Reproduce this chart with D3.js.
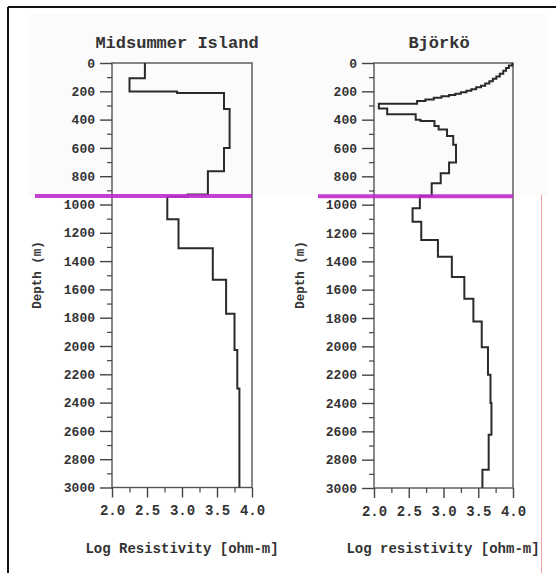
<!DOCTYPE html>
<html>
<head>
<meta charset="utf-8">
<script src="https://cdn.jsdelivr.net/npm/d3@7/dist/d3.min.js"></script>
<style>
html,body{margin:0;padding:0;background:#fff;}
svg{display:block;}
text{font-family:"Liberation Mono","DejaVu Sans Mono",monospace;font-weight:bold;fill:#333;}
</style>
</head>
<body>
<svg id="chart" width="556" height="573"></svg>
<script>
// ---- data ----
const panelTitles = ["Midsummer Island", "Björkö"];
const xTitles = ["Log Resistivity [ohm-m]", "Log resistivity [ohm-m]"];
const yTitle = "Depth (m)";
const xTickValues = [2.0, 2.5, 3.0, 3.5, 4.0];
const yTickValues = [0,200,400,600,800,1000,1200,1400,1600,1800,2000,2200,2400,2600,2800,3000];
const maxDepth = 3000;
const markerDepth = 940;

// Midsummer Island: layer top depths (m) and log resistivity
const midTops = [0,107,202,212,325,600,765,930,945,1105,1309,1531,1772,2028,2300];
const midRes  = [2.47,2.25,2.93,3.60,3.68,3.60,3.37,3.08,2.79,2.95,3.44,3.63,3.75,3.79,3.82];

// Björkö
const bjoTops = [0,18,36,55,75,95,112,128,145,160,172,185,196,207,217,226,235,246,257,268,287,322,362,400,410,445,470,515,577,702,778,849,938,1025,1120,1250,1367,1511,1664,1824,2007,2200,2400,2624,2871];
const bjoRes  = [3.99,3.94,3.90,3.86,3.81,3.76,3.71,3.66,3.60,3.54,3.47,3.40,3.33,3.25,3.17,3.08,2.97,2.86,2.74,2.62,2.07,2.19,2.60,2.67,2.87,2.93,3.05,3.14,3.18,3.08,2.96,2.83,2.66,2.555,2.68,2.92,3.12,3.30,3.43,3.55,3.64,3.676,3.69,3.65,3.56];

// ---- drawing ----
const svg = d3.select("#chart");

// scan background tint & border
svg.append("rect").attr("x",0).attr("y",0).attr("width",556).attr("height",573).attr("fill","#fff");
svg.append("rect").attr("x",28).attr("y",14).attr("width",520).attr("height",182).attr("fill","#fbfbfb");
svg.append("line").attr("x1",8).attr("x2",556).attr("y1",7).attr("y2",7).attr("stroke","#111").attr("stroke-width",2);
svg.append("line").attr("x1",8).attr("x2",8).attr("y1",7).attr("y2",573).attr("stroke","#111").attr("stroke-width",2);
svg.append("line").attr("x1",541.5).attr("x2",541.5).attr("y1",195).attr("y2",573).attr("stroke","#f3a0a0").attr("stroke-width",1);

const panels = [
  {tops: midTops, res: midRes, x0:112, x1:252, y0:63, y1:487.5, title:panelTitles[0], xTitle:xTitles[0], titleX:177, xTitleX:182, depthX:41, markerFrom:35},
  {tops: bjoTops, res: bjoRes, x0:374, x1:513, y0:63, y1:488, title:panelTitles[1], xTitle:xTitles[1], titleX:439, xTitleX:443, depthX:304, markerFrom:318}
];

panels.forEach(p => {
  const x = d3.scaleLinear().domain([2,4]).range([p.x0, p.x1]);
  const y = d3.scaleLinear().domain([0,maxDepth]).range([p.y0, p.y1]);
  const g = svg.append("g");

  // frame
  g.append("rect").attr("x",p.x0).attr("y",p.y0).attr("width",p.x1-p.x0).attr("height",p.y1-p.y0)
    .attr("fill","none").attr("stroke","#555").attr("stroke-width",1.4);

  // y axis: major ticks with labels, minor ticks
  const yMinor = d3.range(100, maxDepth, 200);
  const yAxis = d3.axisLeft(y).tickValues(yTickValues).tickSize(12).tickPadding(5).tickFormat(d3.format("d"));
  const ya = g.append("g").attr("transform",`translate(${p.x0},0)`).call(yAxis);
  ya.select(".domain").remove();
  ya.selectAll(".tick line").attr("stroke","#444").attr("stroke-width",1.4);
  ya.selectAll(".tick text").attr("font-size",13).attr("fill","#333")
    .style("font-family",'"Liberation Mono",monospace').style("font-weight","bold");
  const yb = g.append("g").attr("transform",`translate(${p.x0},0)`)
    .call(d3.axisLeft(y).tickValues(yMinor).tickSize(5).tickFormat(""));
  yb.select(".domain").remove();
  yb.selectAll(".tick line").attr("stroke","#444").attr("stroke-width",1.2);

  // x axis
  const xMinor = [2.25,2.75,3.25,3.75];
  const xa = g.append("g").attr("transform",`translate(0,${p.y1})`)
    .call(d3.axisBottom(x).tickValues(xTickValues).tickSize(10).tickPadding(8).tickFormat(d3.format(".1f")));
  xa.select(".domain").remove();
  xa.selectAll(".tick line").attr("stroke","#444").attr("stroke-width",1.4);
  xa.selectAll(".tick text").attr("font-size",14).attr("fill","#333")
    .style("font-family",'"Liberation Mono",monospace').style("font-weight","bold");
  const xb = g.append("g").attr("transform",`translate(0,${p.y1})`)
    .call(d3.axisBottom(x).tickValues(xMinor).tickSize(5).tickFormat(""));
  xb.select(".domain").remove();
  xb.selectAll(".tick line").attr("stroke","#444").attr("stroke-width",1.2);

  // step curve
  const pts = [];
  p.tops.forEach((t,i) => {
    const bottom = i < p.tops.length-1 ? p.tops[i+1] : maxDepth;
    pts.push([p.res[i], t]);
    pts.push([p.res[i], bottom]);
  });
  g.append("path").datum(pts)
    .attr("d", d3.line().x(d => x(d[0])).y(d => y(d[1])))
    .attr("fill","none").attr("stroke","#2a2a2a").attr("stroke-width",2).attr("stroke-linejoin","miter");

  // magenta marker line
  g.append("line").attr("x1",p.markerFrom).attr("x2",x(4)).attr("y1",y(markerDepth)).attr("y2",y(markerDepth))
    .attr("stroke","#c02ccc").attr("stroke-width",4).attr("opacity",0.9);

  // titles
  g.append("text").attr("x",p.titleX).attr("y",48).attr("text-anchor","middle")
    .attr("font-size",17).text(p.title);
  g.append("text").attr("x",p.xTitleX).attr("y",553).attr("text-anchor","middle")
    .attr("font-size",14).text(p.xTitle);
  g.append("text").attr("transform",`translate(${p.depthX},275) rotate(-90)`).attr("text-anchor","middle")
    .attr("font-size",12.5).text(yTitle);
});
</script>
</body>
</html>
